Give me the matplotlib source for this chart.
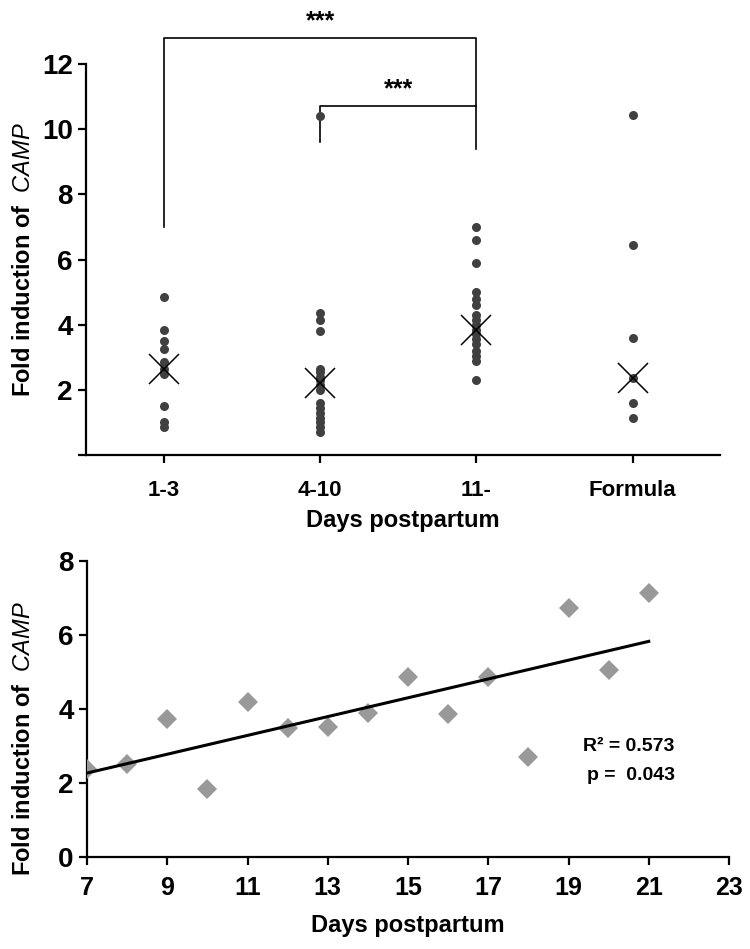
import matplotlib
matplotlib.use("Agg")
import matplotlib.pyplot as plt
import numpy as np

plt.rcParams['font.family'] = ['Liberation Sans', 'DejaVu Sans']
plt.rcParams['mathtext.fontset'] = 'custom'
plt.rcParams['mathtext.rm'] = 'Liberation Sans'
plt.rcParams['mathtext.it'] = 'Liberation Sans:italic'
plt.rcParams['mathtext.bf'] = 'Liberation Sans:bold'

# ---------------- data ----------------
groups = ["1-3", "4-10", "11-", "Formula"]
vals_1_3 = [4.85, 3.85, 3.5, 3.25, 2.85, 2.65, 2.5, 1.5, 1.0, 0.85]
vals_4_10 = [10.4, 4.35, 4.15, 3.8, 2.65, 2.55, 2.4, 2.3, 2.15, 2.0,
             1.6, 1.45, 1.3, 1.15, 1.0, 0.85, 0.7]
vals_11 = [7.0, 6.6, 5.9, 5.0, 4.8, 4.6, 4.3, 4.15, 4.0, 3.85, 3.7,
           3.55, 3.4, 3.2, 3.05, 2.9, 2.3]
vals_formula = [10.45, 6.45, 3.6, 2.35, 1.6, 1.15]
group_centers = [2.65, 2.2, 3.85, 2.35]

top_yticks = [0, 2, 4, 6, 8, 10, 12]
top_ytick_labels = ["", "2", "4", "6", "8", "10", "12"]

days = [7, 8, 9, 10, 11, 12, 13, 14, 15, 16, 17, 18, 19, 20, 21]
fold = [2.37, 2.51, 3.72, 1.84, 4.20, 3.48, 3.52, 3.88, 4.87, 3.86,
        4.87, 2.71, 6.72, 5.05, 7.13]
bottom_xticks = [7, 9, 11, 13, 15, 17, 19, 21, 23]
bottom_yticks = [0, 2, 4, 6, 8]
r2_text = "R² = 0.573"
p_text = "p =  0.043"
stars = "***"

ylabel = r"$\mathbf{Fold\ induction\ of}\ \ \mathit{CAMP}$"
xlabel = "Days postpartum"

# ---------------- figure ----------------
fig = plt.figure(figsize=(7.5, 9.49), dpi=100)
ax1 = fig.add_axes([0.1147, 0.5205, 0.8453, 0.412])
ax2 = fig.add_axes([0.116, 0.0969, 0.856, 0.312])

dot_color = "#404040"
all_groups = [vals_1_3, vals_4_10, vals_11, vals_formula]
for i, vals in enumerate(all_groups):
    xpos = np.full(len(vals), i + 0.5)
    ax1.plot(xpos, vals, 'o', color=dot_color, markersize=6.5,
             markeredgewidth=0, zorder=3)
    ax1.plot(i + 0.5, group_centers[i], 'x', color='black', markersize=22,
             markeredgewidth=1.1, zorder=4)

ax1.set_xlim(0, 4.06)
ax1.set_ylim(0, 12)
ax1.set_xticks([0.5, 1.5, 2.5, 3.5])
ax1.set_xticklabels(groups, fontsize=16, fontweight='bold')
ax1.set_yticks(top_yticks)
ax1.set_yticklabels(top_ytick_labels, fontsize=20, fontweight='bold')
for s in ['top', 'right']:
    ax1.spines[s].set_visible(False)
for s in ['left', 'bottom']:
    ax1.spines[s].set_linewidth(1.6)
ax1.tick_params(axis='both', width=1.6, length=6, direction='out')
ax1.tick_params(axis='x', pad=12)
ax1.set_xlabel(xlabel, fontsize=17, fontweight='bold', labelpad=6)
ax1.set_ylabel(ylabel, fontsize=17)
ax1.yaxis.set_label_coords(-0.08, 0.5)

# significance brackets
bk = dict(color='black', lw=1.2, clip_on=False)
ax1.plot([0.5, 0.5, 2.5, 2.5], [7.0, 12.8, 12.8, 9.4], **bk)
ax1.plot([1.5, 1.5, 2.5], [9.6, 10.7, 10.7], **bk)
ax1.text(1.5, 12.95, stars, ha='center', va='bottom', fontsize=18,
         fontweight='bold', clip_on=False)
ax1.text(2.0, 10.85, stars, ha='center', va='bottom', fontsize=18,
         fontweight='bold', clip_on=False)

# bottom panel
ax2.plot(days, fold, 'D', color='#999999', markersize=10,
         markeredgewidth=0, zorder=3)
coef = np.polyfit(days, fold, 1)
xl = np.array([min(days), max(days)])
ax2.plot(xl, np.polyval(coef, xl), color='black', lw=2.2, zorder=4)
ax2.set_xlim(7, 23)
ax2.set_ylim(0, 8)
ax2.set_xticks(bottom_xticks)
ax2.set_xticklabels([str(t) for t in bottom_xticks], fontsize=18,
                    fontweight='bold')
ax2.set_yticks(bottom_yticks)
ax2.set_yticklabels([str(t) for t in bottom_yticks], fontsize=20,
                    fontweight='bold')
for s in ['top', 'right']:
    ax2.spines[s].set_visible(False)
for s in ['left', 'bottom']:
    ax2.spines[s].set_linewidth(1.6)
ax2.tick_params(axis='both', width=1.6, length=6, direction='out')
ax2.tick_params(axis='x', pad=8)
ax2.set_xlabel(xlabel, fontsize=17, fontweight='bold', labelpad=10)
ax2.set_ylabel(ylabel, fontsize=17)
ax2.yaxis.set_label_coords(-0.081, 0.4)
ax2.text(21.65, 3.0, r2_text, ha='right', va='center', fontsize=14,
         fontweight='bold')
ax2.text(21.65, 2.2, p_text, ha='right', va='center', fontsize=14,
         fontweight='bold')

fig.savefig("out.png", dpi=100)
